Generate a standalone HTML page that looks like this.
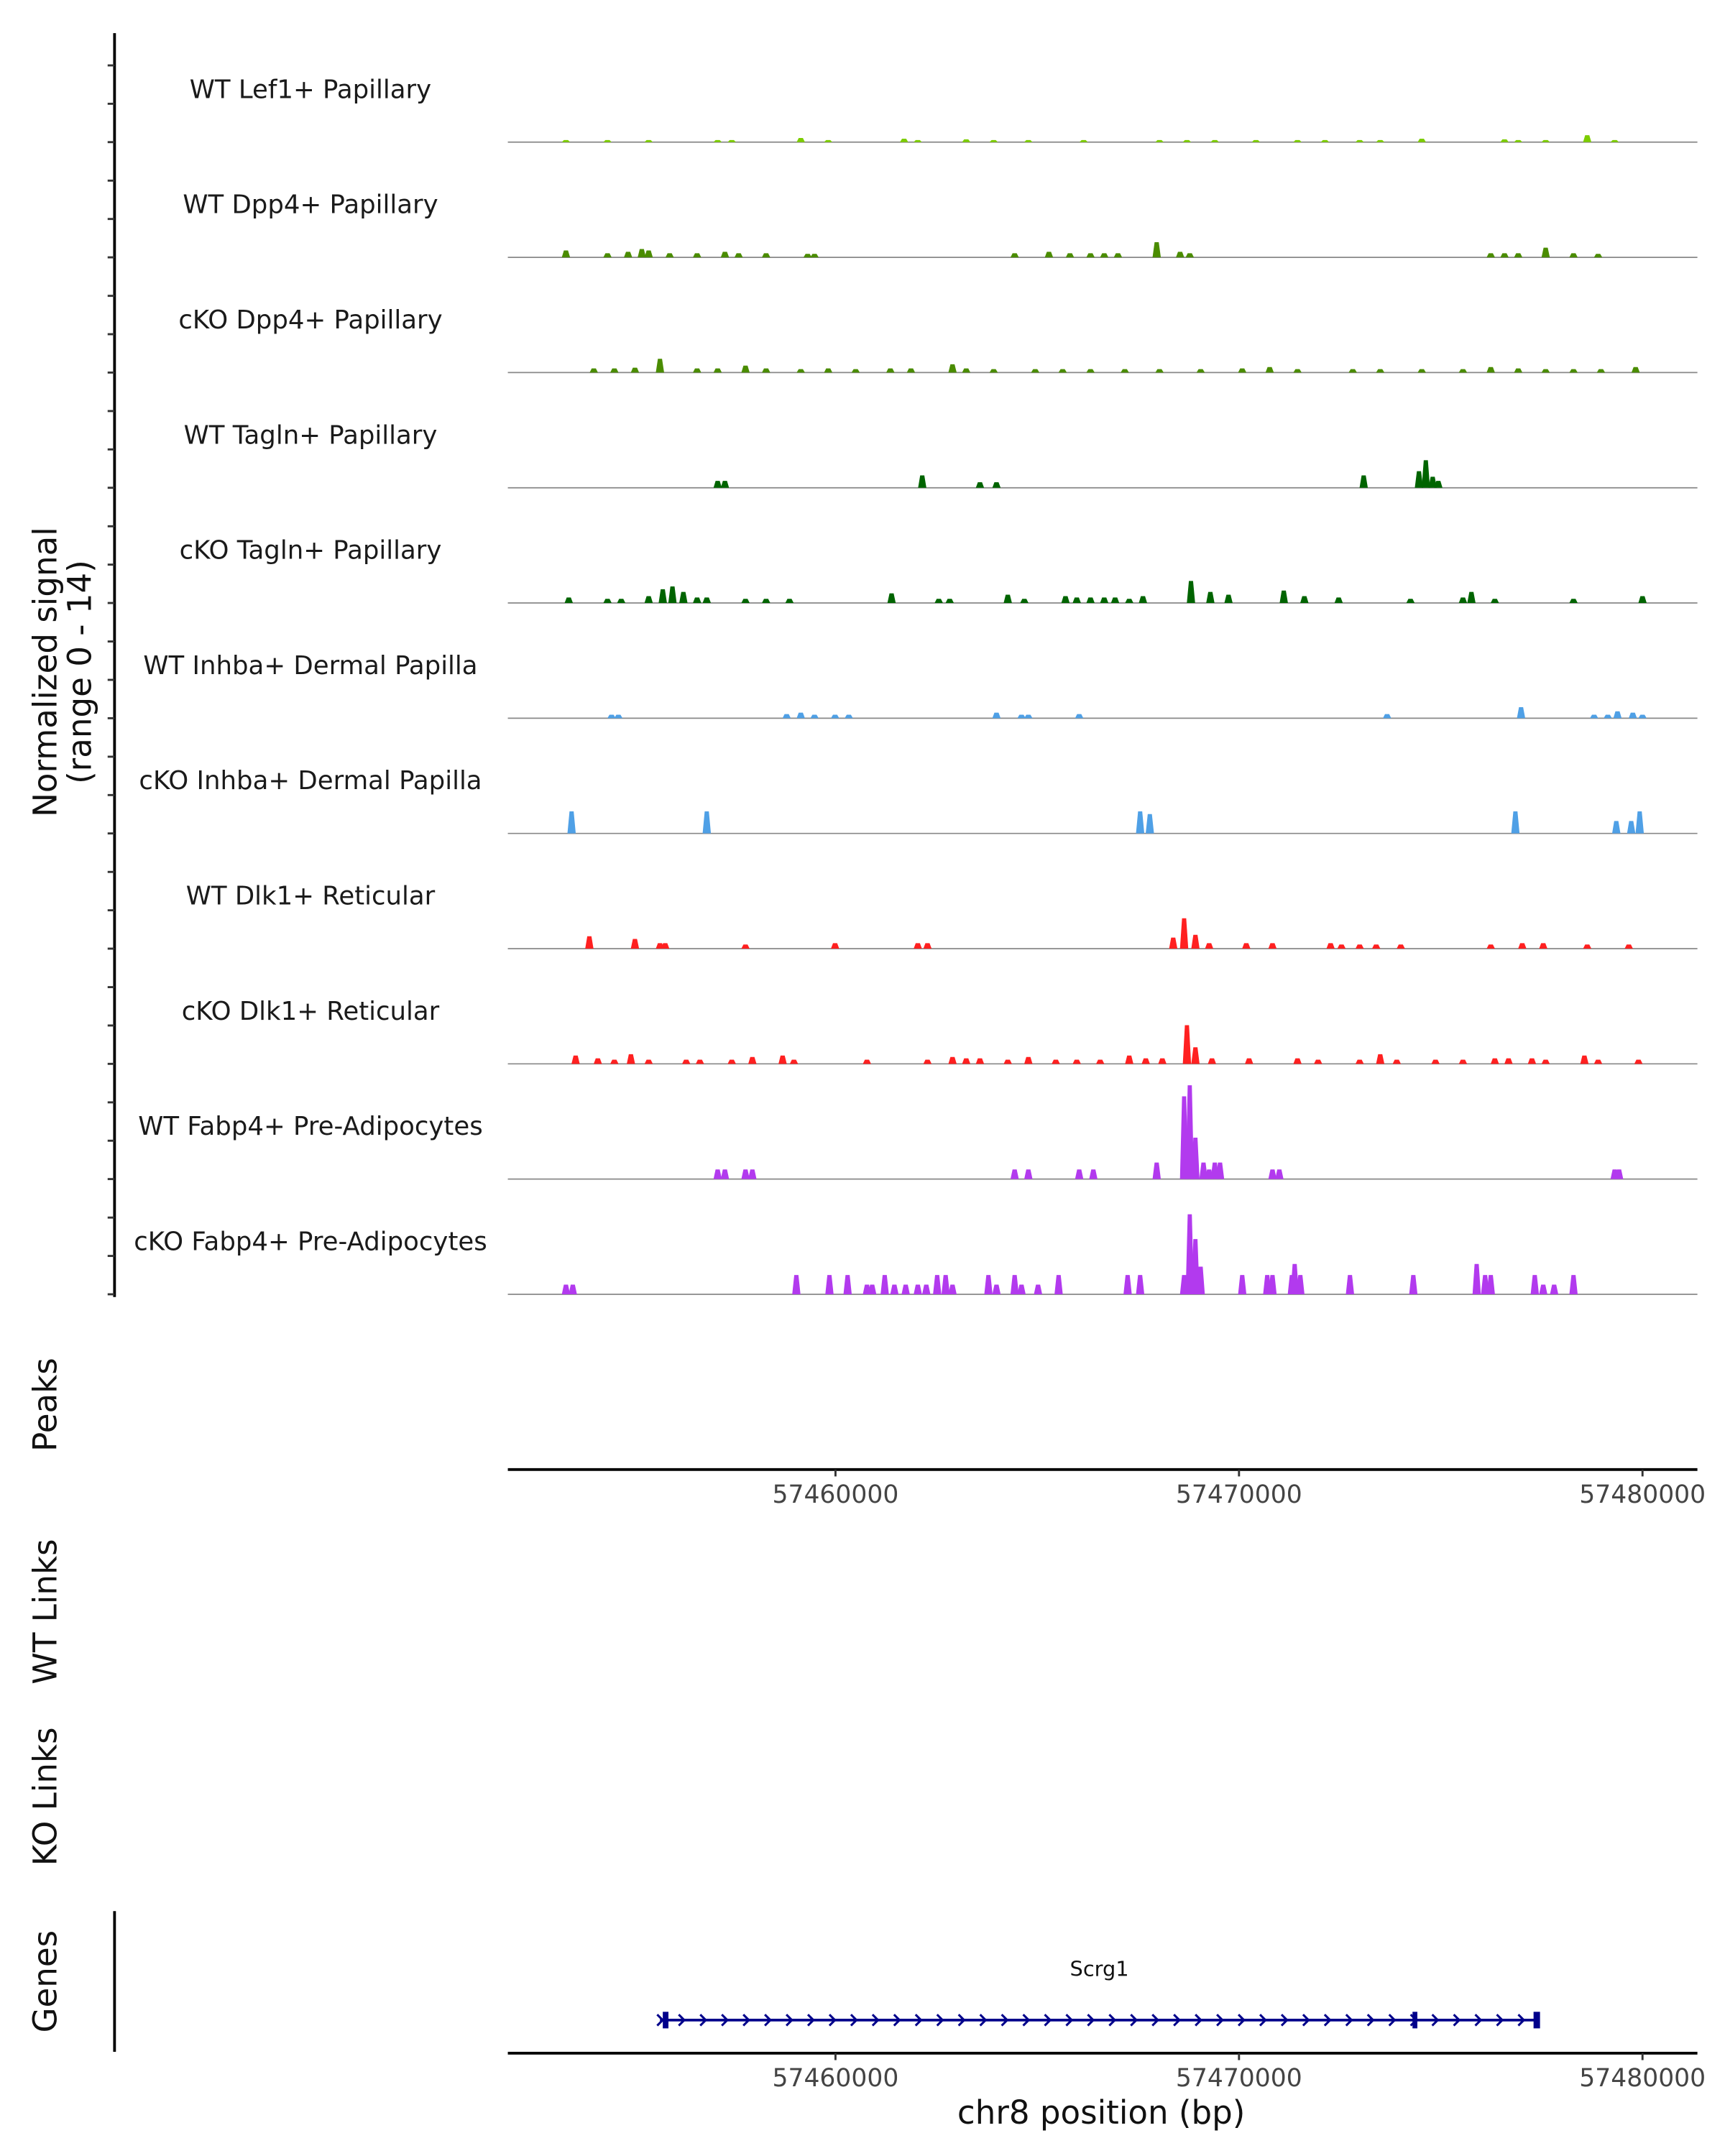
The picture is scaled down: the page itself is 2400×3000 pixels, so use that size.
<!DOCTYPE html>
<html><head><meta charset="utf-8"><style>html,body{margin:0;padding:0;background:#fff}svg{display:block}text{font-family:"DejaVu Sans","Liberation Sans",sans-serif}</style></head>
<body>
<svg id="chart" width="2400" height="3000" viewBox="0 0 1250 1562.5" xmlns="http://www.w3.org/2000/svg">
<g id="tracks"></g>
<g id="axes">
<line x1="83" y1="24" x2="83" y2="940" stroke="#000" stroke-width="2"/>
<text transform="translate(41,487) rotate(-90)" text-anchor="middle" font-size="23.5" fill="#111">Normalized signal</text>
<text transform="translate(66,487) rotate(-90)" text-anchor="middle" font-size="23.5" fill="#111">(range 0 - 14)</text>
<text transform="translate(41,1018) rotate(-90)" text-anchor="middle" font-size="23.5" fill="#111">Peaks</text>
<text transform="translate(41,1168) rotate(-90)" text-anchor="middle" font-size="23.5" fill="#111">WT Links</text>
<text transform="translate(41,1302) rotate(-90)" text-anchor="middle" font-size="23.5" fill="#111">KO Links</text>
<text transform="translate(41,1436) rotate(-90)" text-anchor="middle" font-size="23.5" fill="#111">Genes</text>
<line x1="83" y1="1385" x2="83" y2="1487" stroke="#000" stroke-width="2"/>
<text x="798" y="1539" text-anchor="middle" font-size="23.5" fill="#111">chr8 position (bp)</text>
</g>
<g id="gene"></g>
</svg>
<script>
const trackNames = ["WT Lef1+ Papillary","WT Dpp4+ Papillary","cKO Dpp4+ Papillary","WT Tagln+ Papillary","cKO Tagln+ Papillary","WT Inhba+ Dermal Papilla","cKO Inhba+ Dermal Papilla","WT Dlk1+ Reticular","cKO Dlk1+ Reticular","WT Fabp4+ Pre-Adipocytes","cKO Fabp4+ Pre-Adipocytes"];
const trackColors = ["#7CCD00","#4A8C00","#4A8C00","#006400","#006400","#4FA0E6","#4FA0E6","#FF2020","#FF2020","#B23AEE","#B23AEE"];
const xTicksKb = [57460, 57470, 57480];
const xTickLabels = ["57460000","57470000","57480000"];
const lef1Pos = [57453.32,57454.35,57455.37,57457.08,57457.43,57459.14,57459.82,57461.70,57462.04,57463.24,57463.92,57464.78,57466.15,57468.03,57468.71,57469.40,57470.42,57471.45,57472.13,57472.99,57473.50,57474.53,57476.58,57476.92,57477.60,57478.63,57479.31];
const lef1Val = [0.3,0.3,0.3,0.3,0.3,0.6,0.3,0.5,0.3,0.4,0.3,0.3,0.3,0.3,0.3,0.3,0.3,0.3,0.3,0.3,0.3,0.5,0.4,0.3,0.3,1.0,0.3];
const dpp4Pos = [57453.32,57454.35,57454.86,57455.20,57455.37,57455.89,57456.57,57457.26,57457.60,57458.28,57459.31,57459.48,57464.44,57465.29,57465.81,57466.32,57466.66,57467.00,57467.96,57468.54,57468.78,57476.24,57476.58,57476.92,57477.60,57478.29,57478.90];
const dpp4Val = [1.0,0.6,0.8,1.2,1.0,0.6,0.6,0.8,0.6,0.6,0.5,0.5,0.6,0.8,0.6,0.6,0.6,0.6,2.2,0.8,0.6,0.6,0.6,0.6,1.4,0.6,0.5];
const koDpp4Pos = [57454.01,57454.52,57455.03,57455.65,57456.57,57457.08,57457.77,57458.28,57459.14,57459.82,57460.50,57461.36,57461.87,57462.90,57463.24,57463.92,57464.95,57465.63,57466.32,57467.17,57468.03,57469.05,57470.08,57470.76,57471.45,57472.82,57473.50,57474.53,57475.55,57476.24,57476.92,57477.60,57478.29,57478.97,57479.83];
const koDpp4Val = [0.6,0.6,0.7,2.0,0.6,0.6,1.0,0.6,0.5,0.6,0.5,0.6,0.6,1.2,0.6,0.5,0.5,0.5,0.5,0.5,0.5,0.5,0.6,0.8,0.5,0.5,0.5,0.5,0.5,0.8,0.6,0.5,0.5,0.5,0.8];
const taglnPos = [57457.08,57457.26,57462.15,57463.58,57463.99,57473.09,57474.46,57474.63,57474.80,57474.94];
const taglnVal = [1.0,1.0,1.8,0.8,0.8,1.8,2.4,4.0,1.6,1.0];
const koTaglnPos = [57453.39,57454.35,57454.69,57455.37,57455.72,57455.96,57456.23,57456.57,57456.81,57457.77,57458.28,57458.86,57461.39,57462.56,57462.83,57464.27,57464.68,57465.70,57465.98,57466.32,57466.66,57466.93,57467.28,57467.62,57468.81,57469.29,57469.74,57471.11,57471.62,57472.47,57474.25,57475.55,57475.76,57476.34,57478.29,57480.00];
const koTaglnVal = [0.8,0.6,0.6,1.0,2.0,2.4,1.6,0.8,0.8,0.6,0.6,0.6,1.4,0.6,0.6,1.2,0.6,1.0,0.8,0.8,0.8,0.8,0.6,1.0,3.2,1.6,1.2,1.8,1.0,0.8,0.6,0.8,1.6,0.6,0.6,1.0];
const inhbaPos = [57454.45,57454.62,57458.79,57459.14,57459.48,57459.99,57460.33,57463.99,57464.61,57464.78,57466.04,57473.67,57476.99,57478.80,57479.14,57479.38,57479.76,57480.00];
const inhbaVal = [0.5,0.5,0.6,0.8,0.5,0.5,0.5,0.8,0.5,0.5,0.6,0.6,1.6,0.5,0.5,1.0,0.8,0.5];
const koInhbaPos = [57453.46,57456.81,57467.55,57467.79,57476.85,57479.35,57479.72,57479.93];
const koInhbaVal = [3.2,3.2,3.2,2.8,3.2,1.8,1.8,3.2];
const dlk1Pos = [57453.90,57455.03,57455.65,57455.78,57457.77,57459.99,57462.04,57462.28,57468.37,57468.64,57468.92,57469.26,57470.18,57470.83,57472.27,57472.54,57472.99,57473.40,57474.01,57476.24,57477.02,57477.54,57478.63,57479.66];
const dlk1Val = [1.8,1.4,0.8,0.8,0.6,0.8,0.8,0.8,1.6,4.4,2.0,0.8,0.8,0.8,0.8,0.6,0.6,0.6,0.6,0.6,0.8,0.8,0.6,0.6];
const koDlk1Pos = [57453.56,57454.11,57454.52,57454.93,57455.37,57456.30,57456.64,57457.43,57457.94,57458.69,57458.97,57460.78,57462.28,57462.90,57463.24,57463.58,57464.27,57464.78,57465.46,57465.98,57466.56,57467.28,57467.69,57468.10,57468.71,57468.92,57469.33,57470.25,57471.45,57471.96,57472.99,57473.50,57473.91,57474.87,57475.55,57476.34,57476.68,57477.26,57477.60,57478.56,57478.90,57479.90];
const koDlk1Val = [1.2,0.8,0.6,1.4,0.6,0.6,0.6,0.6,1.0,1.2,0.6,0.6,0.6,1.0,0.8,0.8,0.6,1.0,0.6,0.6,0.6,1.2,0.8,0.8,5.6,2.4,0.8,0.8,0.8,0.6,0.6,1.4,0.6,0.6,0.6,0.8,0.8,0.8,0.6,1.2,0.6,0.6];
const fabp4Pos = [57457.08,57457.26,57457.77,57457.94,57464.44,57464.78,57466.04,57466.39,57467.96,57468.64,57468.78,57468.92,57469.12,57469.26,57469.40,57469.53,57470.83,57471.00,57479.31,57479.42];
const fabp4Val = [1.4,1.4,1.4,1.4,1.4,1.4,1.4,1.4,2.4,12,13.6,6,2.4,1.4,2.4,2.4,1.4,1.4,1.4,1.4];
const koFabp4Pos = [57453.32,57453.49,57459.03,57459.85,57460.30,57460.78,57460.91,57461.22,57461.46,57461.74,57462.04,57462.25,57462.52,57462.73,57462.90,57463.79,57463.99,57464.44,57464.61,57465.02,57465.53,57467.24,57467.55,57468.64,57468.78,57468.92,57469.05,57470.08,57470.70,57470.83,57471.31,57471.38,57471.52,57472.75,57474.32,57475.89,57476.10,57476.24,57477.33,57477.54,57477.81,57478.29];
const koFabp4Val = [1.4,1.4,2.8,2.8,2.8,1.4,1.4,2.8,1.4,1.4,1.4,1.4,2.8,2.8,1.4,2.8,1.4,2.8,1.4,1.4,2.8,2.8,2.8,2.8,11.6,8,4,2.8,2.8,2.8,2.8,4.4,2.8,2.8,2.8,4.4,2.8,2.8,2.8,1.4,1.4,2.8];
const geneName = "Scrg1";
const geneStartKb = 57455.65;
const geneEndKb = 57477.43;
const exonStartsKb = [57455.72, 57474.30, 57477.30];
const exonEndsKb = [57455.86, 57474.42, 57477.46];

const trackPos = [lef1Pos,dpp4Pos,koDpp4Pos,taglnPos,koTaglnPos,inhbaPos,koInhbaPos,dlk1Pos,koDlk1Pos,fabp4Pos,koFabp4Pos];
const trackVal = [lef1Val,dpp4Val,koDpp4Val,taglnVal,koTaglnVal,inhbaVal,koInhbaVal,dlk1Val,koDlk1Val,fabp4Val,koFabp4Val];

const NS = "http://www.w3.org/2000/svg";
const X0 = 368, X1 = 1230, KB0 = 57451.88, PXPERKB = 1/0.0342;
function xs(kb){ return X0 + (kb - KB0) * PXPERKB; }
const TOP = 103, STEP = 83.5, PXPERUNIT = 5;
function ys(i, v){ return TOP + i*STEP - v*PXPERUNIT; }
function mk(tag, attrs, parent){ const e = document.createElementNS(NS, tag); for (const k in attrs) e.setAttribute(k, attrs[k]); parent.appendChild(e); return e; }

const tracks = document.getElementById('tracks');
const axes = document.getElementById('axes');
for (let i = 0; i < trackNames.length; i++) {
  const base = ys(i, 0);
  const g = mk('g', {}, tracks);
  
  
  for (let t = 0; t < 3; t++) {
    const tk = mk('line', {x1:78, x2:83, y1:base - t*27.8, y2:base - t*27.8, stroke:'#333', 'stroke-width':1.5}, axes);
    
    
  }
  const lbl = mk('text', {x:225, y:base - 32, 'text-anchor':'middle', 'font-size':18.5, fill:'#1a1a1a'}, g);
  lbl.textContent = trackNames[i];
  
  
  const bl = mk('line', {x1:X0, x2:X1, y1:base, y2:base, stroke:'#888', 'stroke-width':0.9}, g);
  
  
  const P = trackPos[i], V = trackVal[i];
  for (let j = 0; j < P.length; j++) {
    const cx = xs(P[j]), top = ys(i, V[j]);
    const p = mk('polygon', {points:`${cx-3},${base} ${cx-1.5},${top} ${cx+1.5},${top} ${cx+3},${base}`, fill:trackColors[i]}, g);
    
    
  }
}
[1065, 1488].forEach((ay, k) => {
  const ax = mk('line', {x1:X0, x2:X1, y1:ay, y2:ay, stroke:'#000', 'stroke-width':2}, axes);
  
  
  xTicksKb.forEach((v, n) => {
    const t = mk('line', {x1:xs(v), x2:xs(v), y1:ay, y2:ay+5, stroke:'#333', 'stroke-width':1.5}, axes);
    
    
    const l = mk('text', {x:xs(v), y:ay+24, 'text-anchor':'middle', 'font-size':18, fill:'#444'}, axes);
    l.textContent = xTickLabels[n];
    
    
  });
});
const gg = document.getElementById('gene');
const gy = 1464;
const gl = mk('text', {x:(xs(geneStartKb)+xs(geneEndKb))/2, y:1432, 'text-anchor':'middle', 'font-size':15, fill:'#111'}, gg);
gl.textContent = geneName;


const gline = mk('line', {x1:xs(geneStartKb), x2:xs(geneEndKb), y1:gy, y2:gy, stroke:'#00008B', 'stroke-width':2}, gg);


for (let ax = xs(geneStartKb); ax < xs(geneEndKb) - 4; ax += 15.6) {
  const a = mk('polyline', {points:`${ax-2},${gy-4} ${ax+2},${gy} ${ax-2},${gy+4}`, fill:'none', stroke:'#00008B', 'stroke-width':1.6}, gg);
  
  
}
for (let e = 0; e < exonStartsKb.length; e++) {
  const r = mk('rect', {x:xs(exonStartsKb[e]), y:gy-6, width:xs(exonEndsKb[e])-xs(exonStartsKb[e]), height:12, fill:'#00008B'}, gg);
  
  
}
</script>
</body></html>
